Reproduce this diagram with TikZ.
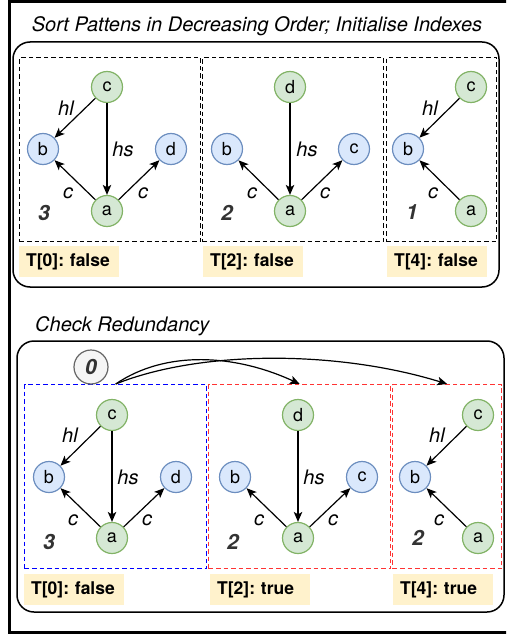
\documentclass[tikz,border=0pt]{standalone}
\usepackage{fontspec}
\setmainfont{TeX Gyre Heros}
\usetikzlibrary{arrows.meta}
\definecolor{gfill}{HTML}{D5E8D4}
\definecolor{gline}{HTML}{82B366}
\definecolor{bfill}{HTML}{DAE8FC}
\definecolor{bline}{HTML}{6C8EBF}
\definecolor{labfill}{HTML}{FFF2CC}
\definecolor{redd}{HTML}{FF3333}
\definecolor{blued}{HTML}{0000FF}
\definecolor{zfill}{HTML}{F5F5F5}
\definecolor{zline}{HTML}{666666}
\definecolor{numcol}{HTML}{333333}
\begin{document}
\begin{tikzpicture}[x=1pt,y=-1pt,
  gnode/.style={circle,draw=gline,fill=gfill,line width=1.2pt,minimum size=31pt,inner sep=0pt,font=\fontsize{18}{18}\selectfont},
  bnode/.style={gnode,draw=bline,fill=bfill},
  edge/.style={line width=1.2pt,-{Stealth[length=10pt,width=8.5pt,inset=2.5pt]}},
  elab/.style={font=\fontsize{20}{20}\selectfont\itshape,inner sep=0pt},
  numlab/.style={font=\fontsize{21}{21}\selectfont\bfseries\itshape,text=numcol,inner sep=0pt},
  tlab/.style={fill=labfill,anchor=north west,minimum height=31pt,inner xsep=7pt,inner ysep=0pt,text width=86pt,align=left,font=\fontsize{17.5}{18}\selectfont\bfseries},
  dbox/.style={draw,dash pattern=on 4.5pt off 3pt,line width=1.4pt,anchor=north west,inner sep=0pt,minimum width=#1},
  dbox/.default=182pt,
  rbox/.style={draw,line width=1.5pt,rounded corners=17pt},
  title/.style={font=\fontsize{20}{20}\selectfont\itshape,inner sep=0pt}
]
\useasboundingbox (0,0) rectangle (506,636);
\clip (0,0) rectangle (506,636);
\draw[line width=3pt] (9,1.5) rectangle (540,632);

% ---------- top panel ----------
\node[title] (t1) at (257,26) {Sort Pattens in Decreasing Order; Initialise Indexes};
\draw[rbox] (13,42) rectangle (499,287);

\node[dbox=181pt,minimum height=184pt] (ta) at (19,57) {};
\node[dbox=181pt,minimum height=184pt] (tb) at (202,57) {};
\node[dbox=110pt,minimum height=184pt] (tc) at (386,57) {};

% panel 1
\node[gnode] (c1) at (107,87) {c};
\node[bnode] (b1) at (43,149) {b};
\node[bnode] (d1) at (171,149) {d};
\node[gnode] (a1) at (107,211) {a};
\draw[edge] (c1) -- (b1);
\draw[edge] (c1) -- (a1);
\draw[edge] (a1) -- (b1);
\draw[edge] (a1) -- (d1);
\node[elab] (l1a) at (66,108) {hl};
\node[elab] (l1b) at (123,149) {hs};
\node[elab] (l1c) at (68,193) {c};
\node[elab] (l1d) at (143,193) {c};
\node[numlab] (n1) at (44,213) {3};

% panel 2
\node[gnode] (d2) at (290,87) {d};
\node[bnode] (b2) at (227,149) {b};
\node[bnode] (c2) at (354,149) {c};
\node[gnode] (a2) at (290,211) {a};
\draw[edge] (d2) -- (a2);
\draw[edge] (a2) -- (b2);
\draw[edge] (a2) -- (c2);
\node[elab] (l2b) at (307,149) {hs};
\node[elab] (l2c) at (252,193) {c};
\node[elab] (l2d) at (325,193) {c};
\node[numlab] (n2) at (227,213) {2};

% panel 3
\node[gnode] (c3) at (471,87) {c};
\node[bnode] (b3) at (408,149) {b};
\node[gnode] (a3) at (471,211) {a};
\draw[edge] (c3) -- (b3);
\draw[edge] (a3) -- (b3);
\node[elab] (l3a) at (430,108) {hl};
\node[elab] (l3c) at (433,193) {c};
\node[numlab] (n3) at (412,212) {1};

\node[tlab] (T1) at (19,246) {T[0]:~false};
\node[tlab] (T2) at (203,246) {T[2]:~false};
\node[tlab] (T3) at (387,246) {T[4]:~false};

% ---------- bottom panel ----------
\node[title,anchor=west] (t2) at (35,326) {Check Redundancy};
\draw[rbox] (17,341) rectangle (504,612);

\node[dbox=182pt,minimum height=184pt,draw=blued] (ba) at (24,384) {};
\node[dbox=182pt,minimum height=184pt,draw=redd] (bb) at (208,384) {};
\node[dbox=109pt,minimum height=184pt,draw=redd] (bc) at (392,384) {};

% panel 1
\node[gnode] (C1) at (112,415) {c};
\node[bnode] (B1) at (49,477) {b};
\node[bnode] (D1) at (176,477) {d};
\node[gnode] (A1) at (112,538) {a};
\draw[edge] (C1) -- (B1);
\draw[edge] (C1) -- (A1);
\draw[edge] (A1) -- (B1);
\draw[edge] (A1) -- (D1);
\node[elab] (L1a) at (70,435) {hl};
\node[elab] (L1b) at (128,477) {hs};
\node[elab] (L1c) at (73,520) {c};
\node[elab] (L1d) at (147,520) {c};
\node[numlab] (N1) at (49,542) {3};

% panel 2
\node[gnode] (D2) at (298,415) {d};
\node[bnode] (B2) at (235,477) {b};
\node[bnode] (C2) at (362,477) {c};
\node[gnode] (A2) at (298,538) {a};
\draw[edge] (D2) -- (A2);
\draw[edge] (A2) -- (B2);
\draw[edge] (A2) -- (C2);
\node[elab] (L2b) at (314,477) {hs};
\node[elab] (L2c) at (259,520) {c};
\node[elab] (L2d) at (333,520) {c};
\node[numlab] (N2) at (233,542) {2};

% panel 3
\node[gnode] (C3) at (478,415) {c};
\node[bnode] (B3) at (415,477) {b};
\node[gnode] (A3) at (478,538) {a};
\draw[edge] (C3) -- (B3);
\draw[edge] (A3) -- (B3);
\node[elab] (L3a) at (437,435) {hl};
\node[elab] (L3c) at (439,520) {c};
\node[numlab] (N3) at (418,538) {2};

\node[tlab] (U1) at (24,574) {T[0]:~false};
\node[tlab] (U2) at (210,574) {T[2]:~true};
\node[tlab] (U3) at (393,574) {T[4]:~true};

% zero marker and arrows
\node[circle,draw=zline,fill=zfill,line width=1.2pt,minimum size=34pt,inner sep=0pt,font=\fontsize{21}{21}\selectfont\bfseries\itshape,text=numcol] (zero) at (91,367) {0};
\draw[edge] (ba.north) .. controls +(50,-34) and +(-65,-30) .. (bb.north);
\draw[edge] (ba.north) .. controls +(85,-34) and +(-110,-34) .. (bc.north);
\end{tikzpicture}
\end{document}
